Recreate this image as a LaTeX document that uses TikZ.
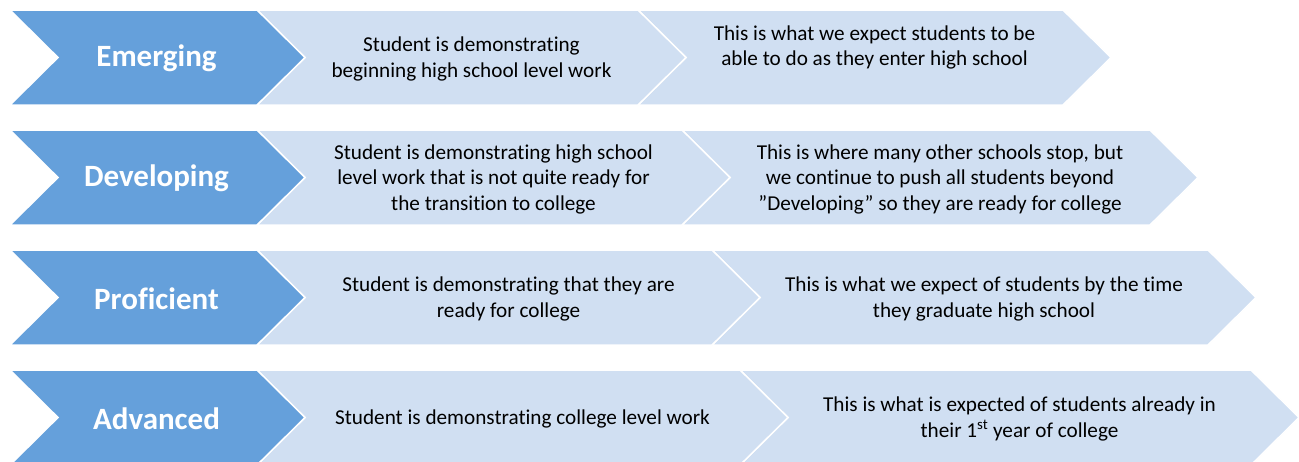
\documentclass[tikz,border=0pt]{standalone}
\usepackage{fontspec}
\setmainfont{Carlito}[Ligatures=NoCommon]
\definecolor{darkblue}{RGB}{101,160,219}
\definecolor{liteblue}{RGB}{208,223,242}
\tikzset{
  chevdark/.style={fill=darkblue, draw=white, line width=1.5pt},
  chevlite/.style={fill=liteblue, draw=white, line width=1.5pt},
  lbl/.style={text=white, inner sep=0pt, font=\fontsize{31}{37}\selectfont\bfseries},
  txt/.style={text=black, inner sep=0pt, align=center, font=\fontsize{21.2}{25.5}\selectfont},
}
% #1 style, #2 left x, #3 top-right x, #4 top y
\newcommand{\chevshape}[4]{%
  \path[#1] (#2,#4) -- (#3,#4) -- ({#3+48},{#4+47.5}) -- (#3,{#4+95})
    -- (#2,{#4+95}) -- ({#2+48},{#4+47.5}) -- cycle;}
\begin{document}
\begin{tikzpicture}[x=1pt,y=-1pt]
\useasboundingbox (0,0) rectangle (1299,461);
\clip (0,0) rectangle (1299,461);
% row 1
\chevshape{chevlite}{638}{1063}{10}
\chevshape{chevlite}{257}{638}{10}
\chevshape{chevdark}{10}{257}{10}
% row 2
\chevshape{chevlite}{682}{1150}{130}
\chevshape{chevlite}{257}{682}{130}
\chevshape{chevdark}{10}{257}{130}
% row 3
\chevshape{chevlite}{712}{1208}{250}
\chevshape{chevlite}{257}{712}{250}
\chevshape{chevdark}{10}{257}{250}
% row 4
\chevshape{chevlite}{740}{1251}{370}
\chevshape{chevlite}{257}{740}{370}
\chevshape{chevdark}{10}{257}{370}
% labels
\node[lbl] (l1) at (156.5,58.5) {Emerging};
\node[lbl] (l2) at (156.5,178.5) {Developing};
\node[lbl] (l3) at (156.5,298.5) {Proficient};
\node[lbl] (l4) at (156.5,419) {Advanced};
% middle texts
\node[txt] (m1) at (471.5,59) {Student is demonstrating\\beginning high school level work};
\node[txt] (m2) at (493.5,179) {Student is demonstrating high school\\level work that is not quite ready for\\the transition to college};
\node[txt] (m3) at (508.5,299) {Student is demonstrating that they are\\ready for college};
\node[txt] (m4) at (522.5,419) {Student is demonstrating college level work};
% right texts
\node[txt] (r1) at (874.5,47.5) {This is what we expect students to be\\able to do as they enter high school};
\node[txt] (r2) at (940,179) {This is where many other schools stop, but\\we continue to push all students beyond\\”Developing” so they are ready for college};
\node[txt] (r3) at (984,299) {This is what we expect of students by the time\\they graduate high school};
\node[txt] (r4) at (1019.5,419) {This is what is expected of students already in\\their 1\textsuperscript{st} year of college};
\end{tikzpicture}
\end{document}
